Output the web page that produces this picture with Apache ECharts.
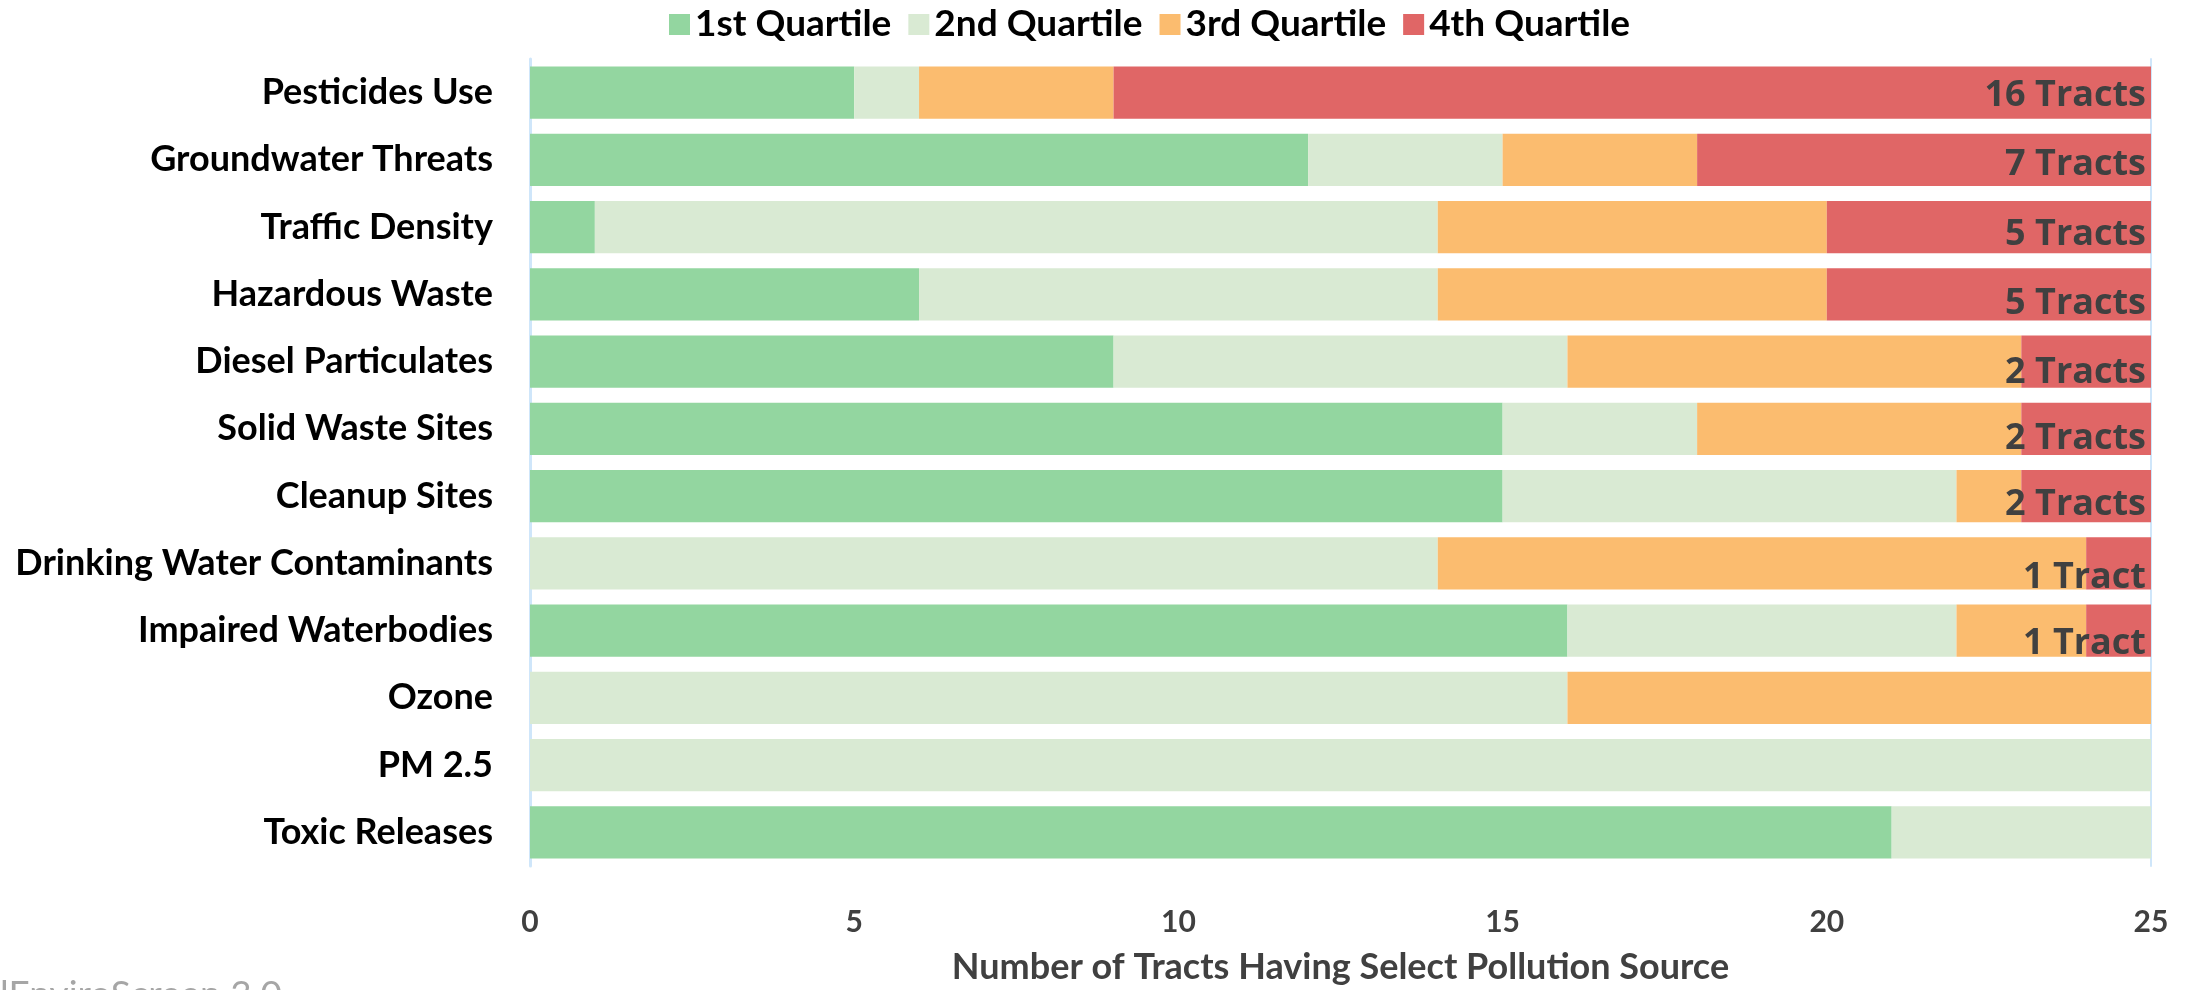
<!DOCTYPE html>
<html>
<head>
<meta charset="utf-8">
<script src="https://cdn.jsdelivr.net/npm/echarts@6/dist/echarts.min.js"></script>
<style>
  html, body { margin: 0; padding: 0; background: #fff; }
  #chart { width: 2192px; height: 990px; }
</style>
</head>
<body>
<div id="chart"></div>
<script>
// categories, top to bottom as drawn
var categories = ['Pesticides Use', 'Groundwater Threats', 'Traffic Density', 'Hazardous Waste',
    'Diesel Particulates', 'Solid Waste Sites', 'Cleanup Sites', 'Drinking Water Contaminants',
    'Impaired Waterbodies', 'Ozone', 'PM 2.5', 'Toxic Releases'];
var seriesNames = ['1st Quartile', '2nd Quartile', '3rd Quartile', '4th Quartile'];
var q1 = [5, 12, 1, 6, 9, 15, 15, 0, 16, 0, 0, 21];
var q2 = [1, 3, 13, 8, 7, 3, 7, 14, 6, 16, 25, 4];
var q3 = [3, 3, 6, 6, 7, 5, 1, 10, 2, 9, 0, 0];
var q4 = [16, 7, 5, 5, 2, 2, 2, 1, 1, 0, 0, 0];
var xTicks = [0, 5, 10, 15, 20, 25];

var colors = ['#93d6a0', '#d9ead3', '#fbbc6f', '#e06666'];
// labels sit a little low in the original, more so on the short bars
var labelShift = [3, 5, 8, 9, 11, 10, 9, 14, 13, 0, 0, 0];

var chart = echarts.init(document.getElementById('chart'));

// y axis is category, inverse so first item is on top
function buildSeries() {
    var all = [q1, q2, q3, q4];
    return all.map(function (vals, i) {
        var s = {
            name: seriesNames[i],
            type: 'bar',
            stack: 'total',
            barCategoryGap: '22%',
            itemStyle: { color: colors[i] },
            emphasis: { disabled: true },
            data: vals.slice()
        };
        if (i === 3) {
            s.data = vals.map(function (v, k) {
                return {
                    value: v,
                    label: {
                        show: v > 0,
                        offset: [0, labelShift[k]]
                    }
                };
            });
            s.label = {
                position: 'insideRight',
                distance: 5,
                fontFamily: 'Open Sans',
                fontWeight: 'bold',
                fontSize: 36,
                color: '#404040',
                formatter: function (p) {
                    return p.value + (p.value === 1 ? ' Tract' : ' Tracts');
                }
            };
        }
        return s;
    });
}

var option = {
    backgroundColor: '#fff',
    animation: false,
    legend: {
        data: seriesNames,
        top: 1,
        left: 664,
        itemWidth: 21,
        itemHeight: 21,
        itemGap: 17,
        icon: 'rect',
        textStyle: {
            fontFamily: 'Lato',
            fontWeight: 'bold',
            fontSize: 37,
            color: '#000'
        }
    },
    grid: {
        left: 530,
        right: 41,
        top: 59,
        bottom: 106,
        containLabel: false
    },
    xAxis: {
        type: 'value',
        min: xTicks[0],
        max: xTicks[xTicks.length - 1],
        interval: 5,
        name: 'Number of Tracts Having Select Pollution Source',
        nameLocation: 'middle',
        nameGap: 83,
        nameTextStyle: {
            fontFamily: 'Lato',
            fontWeight: 'bold',
            fontSize: 36,
            color: '#404040'
        },
        axisLine: { show: false },
        axisTick: { show: false },
        splitLine: { show: false },
        axisLabel: {
            margin: 41,
            fontFamily: 'Lato',
            fontWeight: 'bold',
            fontSize: 30,
            color: '#404040'
        }
    },
    yAxis: [{
        type: 'category',
        data: categories,
        inverse: true,
        axisLine: { show: true, lineStyle: { color: '#cfe6fa', width: 3 } },
        axisTick: { show: false },
        axisLabel: {
            margin: 37,
            fontFamily: 'Lato',
            fontWeight: 'bold',
            fontSize: 36,
            color: '#000'
        }
    }, {
        type: 'category',
        data: categories,
        inverse: true,
        position: 'right',
        axisLine: { show: true, lineStyle: { color: '#cfe6fa', width: 2 } },
        axisTick: { show: false },
        axisLabel: { show: false }
    }],
    graphic: [{
        type: 'text',
        left: 0,
        top: 977,
        style: {
            text: 'lEnviroScreen 3.0',
            font: '37px Lato',
            fill: '#a6a6a6'
        }
    }],
    series: buildSeries()
};

chart.setOption(option);
</script>
</body>
</html>
